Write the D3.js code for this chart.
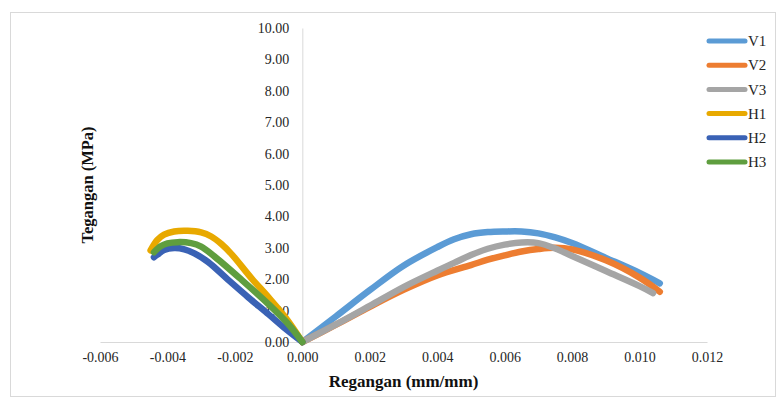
<!DOCTYPE html>
<html>
<head>
<meta charset="utf-8">
<script src="https://cdn.jsdelivr.net/npm/d3@7"></script>
<style>
  body { margin: 0; background: #fff; }
  text { font-family: "Liberation Serif", "Times New Roman", serif; }
</style>
</head>
<body>
<div id="chart"></div>
<script>
// strain (mm/mm) vs stress (MPa)
const seriesNames = ['V1', 'V2', 'V3', 'H1', 'H2', 'H3'];
const seriesColors = ['#5b9bd5', '#ed7d31', '#a5a5a5', '#e8a900', '#3a62b5', '#5f9e3f'];

const V1 = [[0, 0], [0.001, 0.82], [0.002, 1.65], [0.003, 2.43], [0.004, 3.02], [0.0045, 3.27],
  [0.005, 3.43], [0.0055, 3.5], [0.006, 3.52], [0.0065, 3.52], [0.007, 3.46], [0.0075, 3.33],
  [0.008, 3.15], [0.009, 2.68], [0.010, 2.2], [0.0106, 1.87]];
const V2 = [[0, 0], [0.001, 0.55], [0.002, 1.12], [0.003, 1.66], [0.004, 2.12], [0.005, 2.45],
  [0.0055, 2.62], [0.006, 2.76], [0.0065, 2.88], [0.007, 2.96], [0.0075, 3.0], [0.008, 2.95],
  [0.009, 2.6], [0.010, 2.05], [0.0106, 1.6]];
const V3 = [[0, 0], [0.001, 0.56], [0.002, 1.15], [0.003, 1.75], [0.004, 2.27], [0.0045, 2.52],
  [0.005, 2.77], [0.0055, 2.97], [0.006, 3.1], [0.0065, 3.17], [0.007, 3.15], [0.0075, 2.98],
  [0.008, 2.74], [0.009, 2.26], [0.010, 1.78], [0.0104, 1.56]];
const H1 = [[-0.0045, 2.92], [-0.0043, 3.25], [-0.0041, 3.42], [-0.0038, 3.52], [-0.0034, 3.54],
  [-0.003, 3.49], [-0.0027, 3.36], [-0.0024, 3.12], [-0.0021, 2.8], [-0.0015, 2.02],
  [-0.001, 1.42], [-0.0005, 0.78], [0, 0]];
const H2 = [[-0.0044, 2.7], [-0.0043, 2.78], [-0.0041, 2.93], [-0.0038, 2.99], [-0.0035, 2.95],
  [-0.0032, 2.82], [-0.0028, 2.55], [-0.0022, 1.98], [-0.0016, 1.42], [-0.001, 0.88],
  [-0.0005, 0.42], [0, 0]];
const H3 = [[-0.0044, 2.86], [-0.0042, 3.05], [-0.004, 3.14], [-0.0037, 3.18], [-0.0033, 3.15],
  [-0.003, 3.04], [-0.0026, 2.72], [-0.0018, 1.98], [-0.001, 1.2], [-0.0004, 0.55], [0, 0]];

const xTicks = [-0.006, -0.004, -0.002, 0, 0.002, 0.004, 0.006, 0.008, 0.010, 0.012];
const yTicks = [0, 1, 2, 3, 4, 5, 6, 7, 8, 9, 10];

const allSeries = [V1, V2, V3, H1, H2, H3];

const width = 781, height = 401;
const margin = { top: 28, right: 74, bottom: 59, left: 100 };

const svg = d3.select('#chart').append('svg')
  .attr('width', width)
  .attr('height', height);

// chart frame
svg.append('rect')
  .attr('x', 10.5).attr('y', 12.5)
  .attr('width', 765).attr('height', 384)
  .attr('fill', 'none')
  .attr('stroke', '#d9d9d9');

const xScale = d3.scaleLinear().domain([-0.006, 0.012]).range([margin.left, width - margin.right]);
const yScale = d3.scaleLinear().domain([0, 10]).range([height - margin.bottom, margin.top]);

const xAxis = d3.axisBottom(xScale)
  .tickValues(xTicks)
  .tickSize(0)
  .tickPadding(10)
  .tickFormat(d => d3.format('.3f')(d).replace('−', '-'));

const gx = svg.append('g')
  .attr('transform', `translate(0, ${yScale(0)})`)
  .call(xAxis);
gx.select('.domain').attr('stroke', '#d9d9d9');
gx.selectAll('text').attr('font-size', 14).attr('fill', '#262626')
  .style('font-family', '"Liberation Serif", serif');

const yAxis = d3.axisLeft(yScale)
  .tickValues(yTicks)
  .tickSize(0)
  .tickPadding(13)
  .tickFormat(d3.format('.2f'));

const gy = svg.append('g')
  .attr('transform', `translate(${xScale(0)}, 0)`)
  .call(yAxis);
gy.select('.domain').attr('stroke', '#d9d9d9');
gy.selectAll('text').attr('font-size', 14).attr('fill', '#262626')
  .style('font-family', '"Liberation Serif", serif');

const line = d3.line()
  .x(d => xScale(d[0]))
  .y(d => yScale(d[1]))
  .curve(d3.curveCatmullRom.alpha(0.5));

svg.append('g').selectAll('path')
  .data(allSeries)
  .enter().append('path')
    .attr('d', line)
    .attr('fill', 'none')
    .attr('stroke', (d, i) => seriesColors[i])
    .attr('stroke-width', 6.5)
    .attr('stroke-linecap', 'round')
    .attr('stroke-linejoin', 'round');

// axis titles
svg.append('text')
  .attr('x', (xScale(-0.006) + xScale(0.012)) / 2)
  .attr('y', 387)
  .attr('text-anchor', 'middle')
  .attr('font-size', 17)
  .attr('font-weight', 'bold')
  .attr('fill', '#111')
  .text('Regangan (mm/mm)');

svg.append('text')
  .attr('transform', `translate(93, ${(yScale(0) + yScale(10)) / 2}) rotate(-90)`)
  .attr('text-anchor', 'middle')
  .attr('font-size', 16.5)
  .attr('font-weight', 'bold')
  .attr('fill', '#111')
  .text('Tegangan (MPa)');

// legend
const legend = svg.append('g').selectAll('g')
  .data(seriesNames)
  .enter().append('g')
    .attr('transform', (d, i) => `translate(707, ${41 + i * 24.2})`);

legend.append('line')
  .attr('x1', 2).attr('x2', 38)
  .attr('stroke', (d, i) => seriesColors[i])
  .attr('stroke-width', 5)
  .attr('stroke-linecap', 'round');

legend.append('text')
  .attr('x', 41)
  .attr('dy', '0.35em')
  .attr('font-size', 15)
  .attr('fill', '#262626')
  .text(d => d);
</script>
</body>
</html>
